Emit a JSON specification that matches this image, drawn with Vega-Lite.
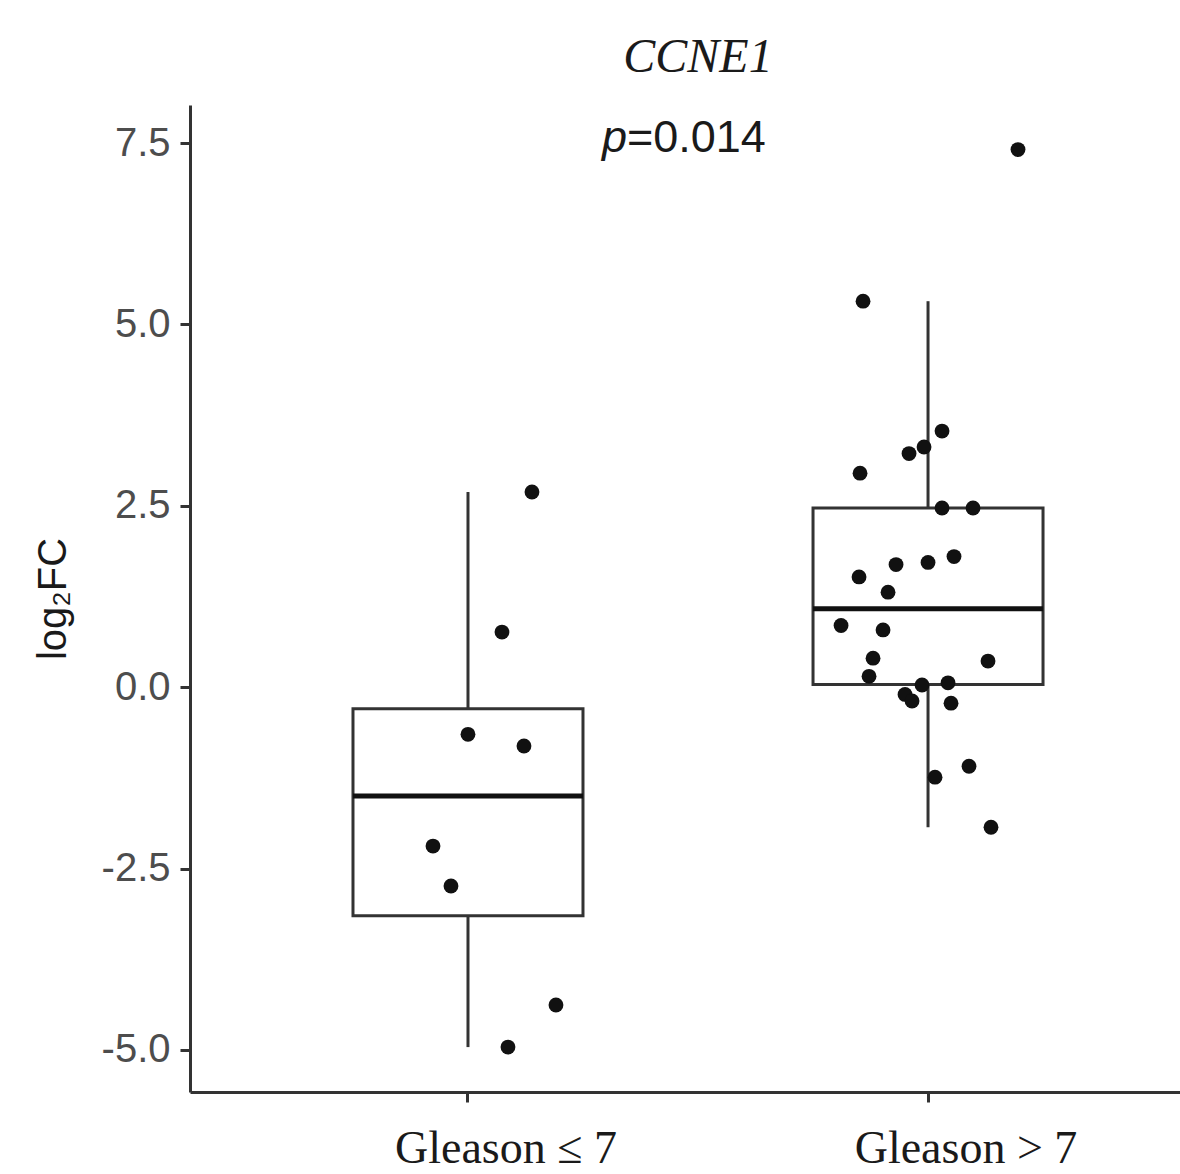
{
  "$schema": "https://vega.github.io/schema/vega-lite/v6.json",
  "width": 990,
  "height": 987,
  "autosize": {"type": "none"},
  "padding": {"left": 190, "top": 105, "right": 0, "bottom": 82},
  "background": "white",
  "config": {"view": {"stroke": null}},
  "title": {
    "text": "CCNE1",
    "font": "Liberation Serif",
    "fontSize": 48,
    "fontStyle": "italic",
    "fontWeight": "normal",
    "color": "#1a1a1a",
    "anchor": "middle",
    "frame": "group",
    "dx": 13,
    "offset": -15,
    "baseline": "alphabetic"
  },
  "datasets": {
    "pts": [
      {"group": "Gleason ≤ 7", "log2FC": 2.69, "jitter": 64},
      {"group": "Gleason ≤ 7", "log2FC": 0.76, "jitter": 34},
      {"group": "Gleason ≤ 7", "log2FC": -0.65, "jitter": 0},
      {"group": "Gleason ≤ 7", "log2FC": -0.81, "jitter": 56},
      {"group": "Gleason ≤ 7", "log2FC": -2.19, "jitter": -35},
      {"group": "Gleason ≤ 7", "log2FC": -2.74, "jitter": -17},
      {"group": "Gleason ≤ 7", "log2FC": -4.38, "jitter": 88},
      {"group": "Gleason ≤ 7", "log2FC": -4.96, "jitter": 40},
      {"group": "Gleason > 7", "log2FC": 5.32, "jitter": -65},
      {"group": "Gleason > 7", "log2FC": 3.53, "jitter": 14},
      {"group": "Gleason > 7", "log2FC": 3.31, "jitter": -4},
      {"group": "Gleason > 7", "log2FC": 3.22, "jitter": -19},
      {"group": "Gleason > 7", "log2FC": 2.95, "jitter": -68},
      {"group": "Gleason > 7", "log2FC": 2.47, "jitter": 14},
      {"group": "Gleason > 7", "log2FC": 2.47, "jitter": 45},
      {"group": "Gleason > 7", "log2FC": 1.80, "jitter": 26},
      {"group": "Gleason > 7", "log2FC": 1.72, "jitter": 0},
      {"group": "Gleason > 7", "log2FC": 1.69, "jitter": -32},
      {"group": "Gleason > 7", "log2FC": 1.52, "jitter": -69},
      {"group": "Gleason > 7", "log2FC": 1.31, "jitter": -40},
      {"group": "Gleason > 7", "log2FC": 0.85, "jitter": -87},
      {"group": "Gleason > 7", "log2FC": 0.79, "jitter": -45},
      {"group": "Gleason > 7", "log2FC": 0.40, "jitter": -55},
      {"group": "Gleason > 7", "log2FC": 0.36, "jitter": 60},
      {"group": "Gleason > 7", "log2FC": 0.15, "jitter": -59},
      {"group": "Gleason > 7", "log2FC": 0.03, "jitter": -6},
      {"group": "Gleason > 7", "log2FC": 0.06, "jitter": 20},
      {"group": "Gleason > 7", "log2FC": -0.10, "jitter": -23},
      {"group": "Gleason > 7", "log2FC": -0.19, "jitter": -16},
      {"group": "Gleason > 7", "log2FC": -0.22, "jitter": 23},
      {"group": "Gleason > 7", "log2FC": -1.09, "jitter": 41},
      {"group": "Gleason > 7", "log2FC": -1.24, "jitter": 7},
      {"group": "Gleason > 7", "log2FC": -1.93, "jitter": 63},
      {"group": "Gleason > 7", "log2FC": 7.41, "jitter": 90}
    ],
    "note": [{"p": "p", "rest": "=0.014", "v": 7.37}]
  },
  "encoding": {
    "x": {
      "field": "group",
      "type": "nominal",
      "sort": ["Gleason ≤ 7", "Gleason > 7"],
      "scale": {"type": "band", "paddingInner": 0.498, "paddingOuter": 0.325, "align": 0.5435},
      "axis": {
        "title": null,
        "labelAngle": 0,
        "labelLimit": 0,
        "labelFont": "Liberation Serif",
        "labelFontSize": 46,
        "labelColor": "#1a1a1a",
        "labelBaseline": "bottom",
        "labelPadding": 70,
        "labelOffset": 38,
        "domainColor": "#333333",
        "domainWidth": 3,
        "tickColor": "#333333",
        "tickWidth": 3,
        "tickSize": 10,
        "grid": false
      }
    },
    "y": {
      "field": "log2FC",
      "type": "quantitative",
      "scale": {"domain": [-5.579, 8.024], "nice": false, "zero": false},
      "axis": {
        "title": "log₂FC",
        "titleFont": "Liberation Sans",
        "titleFontSize": 40,
        "titleFontWeight": "normal",
        "titleColor": "#1a1a1a",
        "titlePadding": 28,
        "values": [-5, -2.5, 0, 2.5, 5, 7.5],
        "labelExpr": "replace(format(datum.value, '.1f'), '\u2212', '-')",
        "labelFont": "Liberation Sans",
        "labelFontSize": 40,
        "labelColor": "#4d4d4d",
        "labelPadding": 10,
        "domainColor": "#333333",
        "domainWidth": 3,
        "tickColor": "#333333",
        "tickWidth": 3,
        "tickSize": 10,
        "grid": false
      }
    }
  },
  "layer": [
    {
      "data": {"name": "pts"},
      "mark": {
        "type": "boxplot",
        "extent": 1.5,
        "size": 230,
        "outliers": false,
        "ticks": false,
        "box": {"fill": "white", "stroke": "#333333", "strokeWidth": 3},
        "median": {"color": "#111111", "thickness": 5, "opacity": 1},
        "rule": {"color": "#333333", "strokeWidth": 3}
      }
    },
    {
      "data": {"name": "pts"},
      "mark": {"type": "circle", "size": 220, "color": "#111111", "opacity": 1},
      "encoding": {
        "xOffset": {"field": "jitter", "type": "quantitative", "scale": {"domain": [-115.5, 115.5]}}
      }
    },
    {
      "data": {"name": "note"},
      "mark": {"type": "text", "align": "right", "baseline": "alphabetic", "font": "Liberation Sans", "fontStyle": "italic", "fontSize": 45, "color": "#1a1a1a", "dx": -58},
      "encoding": {
        "x": null,
        "y": {"field": "v", "type": "quantitative"},
        "text": {"field": "p"}
      }
    },
    {
      "data": {"name": "note"},
      "mark": {"type": "text", "align": "left", "baseline": "alphabetic", "font": "Liberation Sans", "fontSize": 45, "color": "#1a1a1a", "dx": -58},
      "encoding": {
        "x": null,
        "y": {"field": "v", "type": "quantitative"},
        "text": {"field": "rest"}
      }
    }
  ]
}
